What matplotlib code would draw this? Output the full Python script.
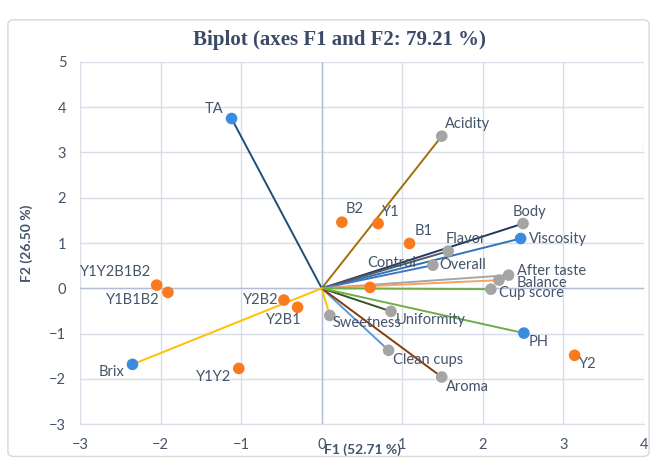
import numpy as np
import matplotlib.pyplot as plt
from matplotlib.patches import FancyBboxPatch

# variables (vectors from origin)
var_names = ['TA', 'Acidity', 'Body', 'Viscosity', 'Flavor', 'Overall', 'After taste',
             'Balance', 'Cup score', 'Uniformity', 'Sweetness', 'Clean cups', 'Aroma', 'PH', 'Brix']
var_x = [-1.12, 1.49, 2.50, 2.47, 1.57, 1.38, 2.32, 2.20, 2.10, 0.86, 0.10, 0.83, 1.49, 2.51, -2.35]
var_y = [3.75, 3.36, 1.43, 1.10, 0.82, 0.51, 0.29, 0.18, -0.02, -0.51, -0.60, -1.37, -1.96, -0.99, -1.68]
var_supp = [True, False, False, True, False, False, False, False, False, False, False, False, False, True, True]

# observations
obs_names = ['Control', 'B1', 'Y1', 'B2', 'Y2', 'Y1Y2B1B2', 'Y1B1B2', 'Y2B2', 'Y2B1', 'Y1Y2']
obs_x = [0.60, 1.09, 0.70, 0.25, 3.14, -2.05, -1.91, -0.47, -0.30, -1.03]
obs_y = [0.02, 0.99, 1.43, 1.46, -1.48, 0.07, -0.09, -0.26, -0.42, -1.77]

line_colors = ['#1F4E79', '#A0700A', '#203864', '#2E75B6', '#595959', '#4472C4', '#A5A5A5',
               '#F4A460', '#70AD47', '#375623', '#FFC000', '#5B9BD5', '#843C0C', '#70AD47', '#FFC000']

var_off = {'TA': (-8, 10, 'right'), 'Acidity': (3, 12, 'left'), 'Body': (-10, 12, 'left'),
           'Viscosity': (8, -1, 'left'), 'Flavor': (-3, 12, 'left'), 'Overall': (7, 0, 'left'),
           'After taste': (8, 4, 'left'), 'Balance': (18, -3, 'left'), 'Cup score': (8, -4, 'left'),
           'Uniformity': (5, -9, 'left'), 'Sweetness': (3, -8, 'left'), 'Clean cups': (4, -10, 'left'),
           'Aroma': (4, -10, 'left'), 'PH': (5, -9, 'left'), 'Brix': (-8, -8, 'right')}
obs_off = {'Control': (-3, 24, 'left'), 'B1': (5, 12, 'left'), 'Y1': (4, 12, 'left'),
           'B2': (4, 13, 'left'), 'Y2': (4, -9, 'left'), 'Y1Y2B1B2': (-5, 13, 'right'),
           'Y1B1B2': (-8, -8, 'right'), 'Y2B2': (-5, 0, 'right'), 'Y2B1': (4, -13, 'right'),
           'Y1Y2': (-8, -9, 'right')}

txt = '#44546A'
fs = 10.5

fig = plt.figure(figsize=(6.57, 4.62), dpi=100)
fig.patches.append(FancyBboxPatch((0.012, 0.012), 0.976, 0.945, boxstyle='round,pad=0,rounding_size=0.01',
                                  transform=fig.transFigure, fill=False, edgecolor='#D9D9D9', lw=1))
ax = fig.add_axes([0.122, 0.082, 0.858, 0.784])

for i in range(len(var_names)):
    ax.plot([0, var_x[i]], [0, var_y[i]], color=line_colors[i], lw=1.4, zorder=2)
for i in range(len(var_names)):
    c = '#3A8DDE' if var_supp[i] else '#A5A5A5'
    ax.scatter(var_x[i], var_y[i], s=70, color=c, zorder=4, edgecolors='none')
    dx, dy, ha = var_off[var_names[i]]
    ax.annotate(var_names[i], (var_x[i], var_y[i]), xytext=(dx, dy), textcoords='offset pixels',
                ha=ha, va='center', fontsize=fs, color=txt, family='Lato', zorder=5)

ax.scatter(obs_x, obs_y, s=70, color='#F97A1F', zorder=4, edgecolors='none')
for i in range(len(obs_names)):
    dx, dy, ha = obs_off[obs_names[i]]
    ax.annotate(obs_names[i], (obs_x[i], obs_y[i]), xytext=(dx, dy), textcoords='offset pixels',
                ha=ha, va='center', fontsize=fs, color=txt, family='Lato', zorder=5)

ax.set_xlim(-3, 4)
ax.set_ylim(-3, 5)
ax.set_xticks(np.arange(-3, 5, 1))
ax.set_yticks(np.arange(-3, 6, 1))
ax.grid(color='#D9DDE8', lw=1)
ax.axhline(0, color='#B4BDD6', lw=1, zorder=1)
ax.axvline(0, color='#B4BDD6', lw=1, zorder=1)
ax.set_axisbelow(True)
for s in ax.spines.values():
    s.set_visible(False)
ax.spines['bottom'].set_visible(True)
ax.spines['bottom'].set_color('#D9DDE8')
ax.tick_params(length=0, labelsize=10.5, labelcolor=txt, pad=10)
for lab in ax.get_xticklabels() + ax.get_yticklabels():
    lab.set_family('Lato')

ax.set_xlabel('F1 (52.71 %)', fontsize=10, fontweight='bold', color=txt, family='Lato', labelpad=-6)
ax.set_ylabel('F2 (26.50 %)', fontsize=10, fontweight='bold', color=txt, family='Lato', labelpad=12)
fig.text(0.516, 0.913, 'Biplot (axes F1 and F2: 79.21 %)', ha='center', va='center',
         fontsize=15, fontweight='bold', color='#3B4A66', family='Liberation Serif')

fig.savefig('out.png', dpi=100)
